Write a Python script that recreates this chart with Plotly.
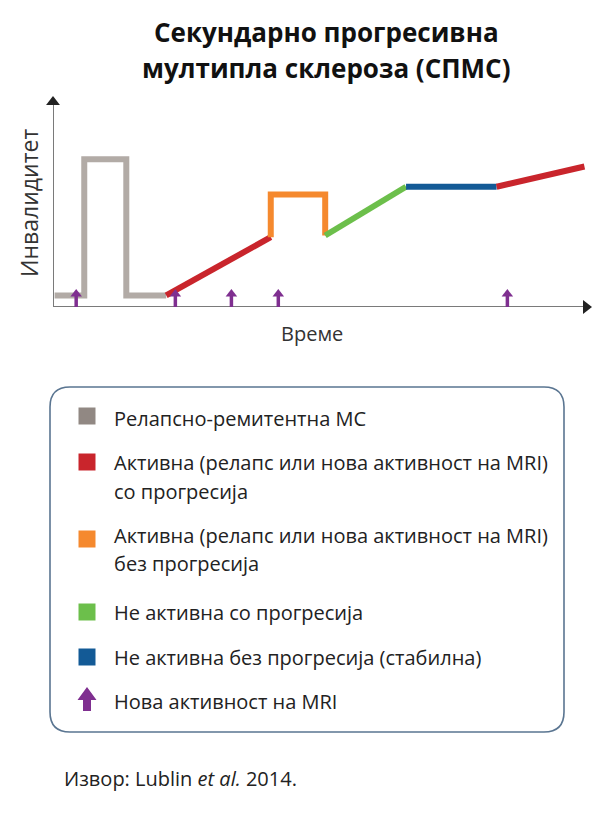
import plotly.graph_objects as go

# ---- data ----
rrms_x = [0.3, 5.8, 5.8, 13.6, 13.6, 21.0]
rrms_y = [5.5, 5.5, 70.0, 70.0, 5.5, 5.5]
active_prog1_x = [21.0, 40.4]
active_prog1_y = [5.5, 33.1]
active_noprog_x = [40.4, 40.4, 50.5, 50.5]
active_noprog_y = [33.1, 53.3, 53.3, 33.9]
inactive_prog_x = [50.5, 65.5]
inactive_prog_y = [33.9, 57.0]
inactive_stable_x = [65.5, 82.3]
inactive_stable_y = [57.0, 57.0]
active_prog2_x = [82.3, 98.6]
active_prog2_y = [57.0, 66.6]
mri_x = [4.3, 22.7, 33.1, 41.8, 84.3]
mri_tip = 8.5

title_lines = ["Секундарно прогресивна", "мултипла склероза (СПМС)"]
y_title = "Инвалидитет"
x_title = "Време"
legend_labels = [
    ["Релапсно-ремитентна МС"],
    ["Активна (релапс или нова активност на MRI)", "со прогресија"],
    ["Активна (релапс или нова активност на MRI)", "без прогресија"],
    ["Не активна со прогресија"],
    ["Не активна без прогресија (стабилна)"],
    ["Нова активност на MRI"],
]
source_text = "Извор: Lublin <i>et al.</i> 2014."

# ---- styles ----
PAGE_PAD = 8               # default body margin of the html page
W, H = 600 - PAGE_PAD, 820 - PAGE_PAD
FONT = "Open Sans"
C_GRAY = "#b2aba6"
C_RED = "#c9252c"
C_ORANGE = "#f5892e"
C_GREEN = "#6cbf4b"
C_BLUE = "#135a96"
C_PURPLE = "#7f2f90"
C_AXIS = "#7a7a7a"
C_HEAD = "#222222"
LW = 6

AX_L, AX_R = 53, 592      # window-pixel extent of x axis (y axis position .. arrow tip)
AX_B, AX_T = 307, 96      # window-pixel extent of y axis (x axis position .. arrow tip)
XU = 100 / (AX_R - AX_L)  # data units per pixel
YU = 100 / (AX_B - AX_T)


def px(x):
    return (x - PAGE_PAD) / W


def py(y):
    return 1 - (y - PAGE_PAD) / H


fig = go.Figure()

# axis lines
HEAD = 12
fig.add_trace(go.Scatter(x=[0, 0, None, 0, 100 - 8 * XU], y=[100 - 8 * YU, 0, None, 0, 0],
                         mode="lines", line=dict(color=C_AXIS, width=2),
                         hoverinfo="skip", showlegend=False, cliponaxis=False))
fig.add_trace(go.Scatter(x=[0], y=[100 - HEAD / 2 * YU], mode="markers",
                         marker=dict(symbol="triangle-up", size=HEAD, color=C_HEAD),
                         hoverinfo="skip", showlegend=False, cliponaxis=False))
fig.add_trace(go.Scatter(x=[100 - HEAD / 2 * XU], y=[0], mode="markers",
                         marker=dict(symbol="triangle-right", size=HEAD, color=C_HEAD),
                         hoverinfo="skip", showlegend=False, cliponaxis=False))

series = [
    (rrms_x, rrms_y, C_GRAY),
    (active_prog1_x, active_prog1_y, C_RED),
    (active_noprog_x, active_noprog_y, C_ORANGE),
    (inactive_prog_x, inactive_prog_y, C_GREEN),
    (inactive_stable_x, inactive_stable_y, C_BLUE),
    (active_prog2_x, active_prog2_y, C_RED),
]
for xs, ys, c in series:
    fig.add_trace(go.Scatter(x=xs, y=ys, mode="lines",
                             line=dict(color=c, width=LW),
                             hoverinfo="skip", showlegend=False, cliponaxis=False))

# MRI arrows: shaft + head
MH = 10  # head marker size (px)
shaft_x, shaft_y = [], []
for xv in mri_x:
    shaft_x += [xv, xv, None]
    shaft_y += [0, mri_tip - MH * 0.6 * YU, None]
fig.add_trace(go.Scatter(x=shaft_x, y=shaft_y, mode="lines",
                         line=dict(color=C_PURPLE, width=3.5),
                         hoverinfo="skip", showlegend=False, cliponaxis=False))
fig.add_trace(go.Scatter(x=mri_x, y=[mri_tip - MH / 2 * YU] * len(mri_x), mode="markers",
                         marker=dict(symbol="triangle-up", size=MH, color=C_PURPLE),
                         hoverinfo="skip", showlegend=False, cliponaxis=False))

ann = []
# titles
for txt, yy in zip(title_lines, [32, 68]):
    ann.append(dict(x=px(326), y=py(yy), xref="paper", yref="paper", showarrow=False,
                    text="<b>" + txt + "</b>", font=dict(family=FONT, size=26, color="#111"),
                    xanchor="center", yanchor="middle"))
ann.append(dict(x=px(29), y=py(203), xref="paper", yref="paper", showarrow=False,
                text=y_title, textangle=-90, font=dict(family=FONT, size=23, color="#333"),
                xanchor="center", yanchor="middle"))
ann.append(dict(x=px(312), y=py(333), xref="paper", yref="paper", showarrow=False,
                text=x_title, font=dict(family=FONT, size=20, color="#333"),
                xanchor="center", yanchor="middle"))

# legend
row_y = [418, 463, 535, 612, 657, 701]
sq_y = [416, 462, 539, 612, 657, 699]
sq_colors = ["#918883", C_RED, C_ORANGE, C_GREEN, C_BLUE, None]
LINE_GAP = 28
TX = 112
SQ_X = 87
SQ = 17
shapes = []
for labels, ty, sy, col in zip(legend_labels, row_y, sq_y, sq_colors):
    for k, lab in enumerate(labels):
        ann.append(dict(x=px(TX), y=py(ty + k * LINE_GAP), xref="paper", yref="paper",
                        showarrow=False, text=lab, font=dict(family=FONT, size=20, color="#222"),
                        xanchor="left", yanchor="middle"))
    if col is not None:
        shapes.append(dict(type="rect", xref="paper", yref="paper",
                           x0=px(SQ_X - SQ / 2), x1=px(SQ_X + SQ / 2),
                           y0=py(sy + SQ / 2), y1=py(sy - SQ / 2),
                           fillcolor=col, line=dict(width=0)))
    else:
        tip, base, bot = sy - 12, sy + 1, sy + 12
        hw, sw = 9.5, 4
        pts = [(SQ_X, tip), (SQ_X + hw, base), (SQ_X + sw, base), (SQ_X + sw, bot),
               (SQ_X - sw, bot), (SQ_X - sw, base), (SQ_X - hw, base)]
        p = "M " + " L ".join(f"{px(a)},{py(b)}" for a, b in pts) + " Z"
        shapes.append(dict(type="path", xref="paper", yref="paper", path=p,
                           fillcolor=C_PURPLE, line=dict(width=0)))

# rounded legend box
x0, x1 = px(50), px(564)
y0, y1 = py(732), py(387)
rx, ry = 20 / W, 20 / H
path = (f"M {x0+rx},{y1} L {x1-rx},{y1} Q {x1},{y1} {x1},{y1-ry} "
        f"L {x1},{y0+ry} Q {x1},{y0} {x1-rx},{y0} L {x0+rx},{y0} "
        f"Q {x0},{y0} {x0},{y0+ry} L {x0},{y1-ry} Q {x0},{y1} {x0+rx},{y1} Z")
shapes.append(dict(type="path", xref="paper", yref="paper", path=path,
                   line=dict(color="#5a7591", width=1.6), fillcolor="rgba(0,0,0,0)"))

# source
ann.append(dict(x=px(62), y=py(778), xref="paper", yref="paper", showarrow=False,
                text=source_text, font=dict(family=FONT, size=20, color="#222"),
                xanchor="left", yanchor="middle"))

fig.update_layout(
    width=W, height=H,
    margin=dict(l=0, r=0, t=0, b=0),
    paper_bgcolor="white", plot_bgcolor="white",
    xaxis=dict(domain=[px(AX_L), px(AX_R)], range=[0, 100], visible=False, fixedrange=True),
    yaxis=dict(domain=[py(AX_B), py(AX_T)], range=[0, 100], visible=False, fixedrange=True),
    annotations=ann, shapes=shapes, showlegend=False,
)
fig.write_html("out.html")
